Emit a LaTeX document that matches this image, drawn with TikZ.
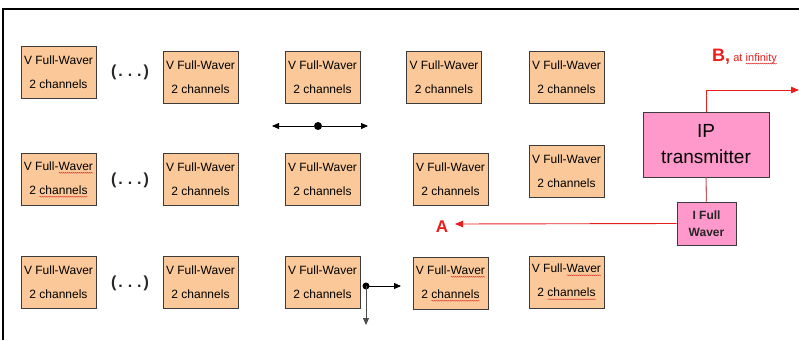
\documentclass[tikz,border=0pt]{standalone}
\usepackage{fontspec}
\setmainfont{Liberation Sans}
\usetikzlibrary{arrows.meta,decorations.pathmorphing}
\definecolor{peach}{RGB}{251,201,153}
\definecolor{pinkbox}{RGB}{255,153,204}
\definecolor{boxline}{RGB}{60,60,60}
\definecolor{linkred}{RGB}{200,90,95}
\definecolor{arrred}{RGB}{235,30,30}
\definecolor{wavered}{RGB}{220,40,40}
\newcommand\spellwave[1]{\tikz[baseline=(w.base),x=1pt,y=1pt]{\node[shape=rectangle,inner sep=0pt,outer sep=0pt,minimum width=0pt,minimum height=0pt,draw=none,fill=none,anchor=center](w){#1};
  \draw[decorate, decoration={snake,amplitude=0.5pt,segment length=2pt}, draw=wavered, fill=none, line width=0.4pt]
  ([yshift=-2.6pt]w.base west) -- ([yshift=-2.6pt]w.base east);}}
\tikzset{
  vfw/.style={draw=boxline, fill=peach, line width=0.9pt, minimum width=75pt, minimum height=52pt,
    inner sep=0pt, align=center, font=\fontsize{12}{24}\selectfont},
  dots/.style={font=\fontsize{16}{16}\selectfont\bfseries, text=black!85},
  pbox/.style={draw=boxline, fill=pinkbox, line width=0.9pt, inner sep=0pt, align=center},
  blk/.style={-{Triangle[length=7pt,width=6pt]}, line width=0.9pt, black},
  redarr/.style={-{Triangle[length=8pt,width=6.5pt]}, line width=0.9pt, arrred},
}
\newcommand\vtext{V Full-Waver\\2 channels}
\newcommand\vwtext{V Full-\spellwave{Waver}\\2 \spellwave{channels}}
\begin{document}
\begin{tikzpicture}[x=1pt,y=-1pt]
\useasboundingbox (0,0) rectangle (799,340);
% frame
\draw[line width=2pt, black] (2.5,340) -- (2.5,9) -- (799,9);
% row 1
\node[vfw] (b11) at (58.5,72) {\vtext};
\node[vfw] (b12) at (200.5,77) {\vtext};
\node[vfw] (b13) at (322.5,77) {\vtext};
\node[vfw] (b14) at (444,77) {\vtext};
\node[vfw] (b15) at (566.5,77) {\vtext};
\node[dots] (d1) at (130,72) {(\hspace{2pt}.\hspace{5pt}.\hspace{5pt}.\hspace{2pt})};
% row 2
\node[vfw] (b21) at (58.5,179.5) {\vwtext};
\node[vfw] (b22) at (200.5,179.5) {\vtext};
\node[vfw] (b23) at (322.5,179.5) {\vtext};
\node[vfw] (b24) at (450.5,179) {\vtext};
\node[vfw] (b25) at (566.5,171) {\vtext};
\node[dots] (d2) at (130,180) {(\hspace{2pt}.\hspace{5pt}.\hspace{5pt}.\hspace{2pt})};
% row 3
\node[vfw] (b31) at (58.5,282) {\vtext};
\node[vfw] (b32) at (200.5,282) {\vtext};
\node[vfw] (b33) at (322.5,282) {\vtext};
\node[vfw] (b34) at (450.5,283.5) {\vwtext};
\node[vfw] (b35) at (566.5,282) {\vwtext};
\node[dots] (d3) at (130,283) {(\hspace{2pt}.\hspace{5pt}.\hspace{5pt}.\hspace{2pt})};
% row 1 double arrow
\coordinate (r1l) at (272,126);
\coordinate (r1r) at (368,126);
\node[circle, fill=black, inner sep=0pt, minimum size=8pt] (r1d) at (318,126) {};
\draw[blk] (r1d) -- (r1l);
\draw[blk] (r1d) -- (r1r);
% row 3 corner arrows
\node[circle, fill=black, inner sep=0pt, minimum size=7pt] (r3d) at (366,286) {};
\coordinate (r3r) at (401,286);
\coordinate (r3b) at (366,325);
\draw[blk] (r3d.center) -- (r3r);
\draw[blk, black!70] (r3d.center) -- (r3b);
% IP transmitter
\node[pbox, minimum width=126pt, minimum height=65pt, font=\fontsize{19}{26}\selectfont] (ip) at (706,144.5) {IP\\transmitter};
\node[pbox, minimum width=59pt, minimum height=43pt, font=\fontsize{12}{17}\selectfont\bfseries, text=black!85] (ifw) at (706.5,223.5) {I Full\\Waver};
\draw[linkred, line width=1.1pt] (ip.south) -- (ifw.north);
% B arrow
\coordinate (bc) at (706,90);
\coordinate (bend) at (799,90);
\draw[redarr] (ip.north) -- (bc) -- (bend);
\node[anchor=base west, inner sep=0pt, text=arrred] (blab) at (712,61)
  {{\fontsize{18}{18}\selectfont\bfseries B,}{\fontsize{11}{11}\selectfont\ at \spellwave{infinity}}};
% A arrow
\node[text=arrred, font=\fontsize{17}{17}\selectfont\bfseries, inner sep=0pt] (alab) at (442,227) {A};
\coordinate (atip) at (455,224);
\draw[redarr] (ifw.west) -- (atip);
\end{tikzpicture}
\end{document}
